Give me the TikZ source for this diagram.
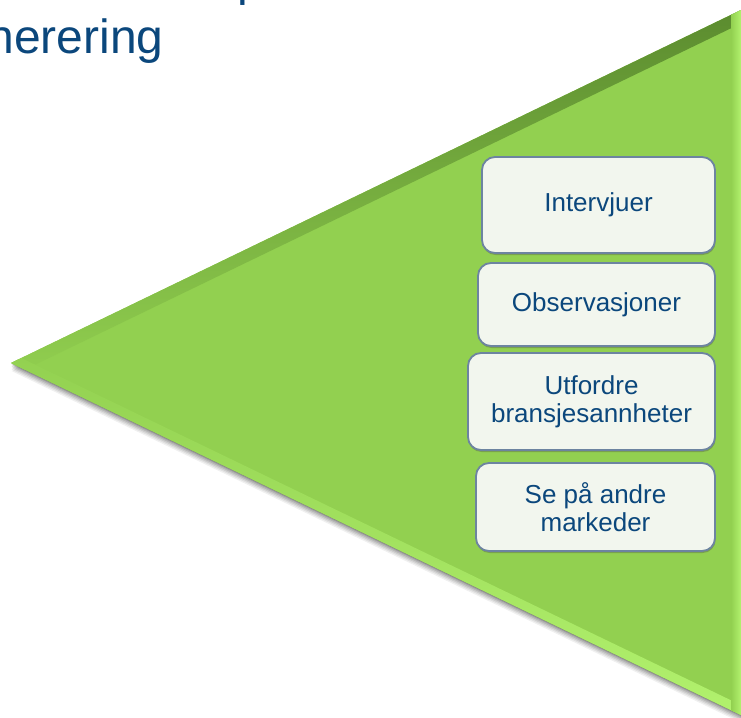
\documentclass[tikz,border=0pt]{standalone}
\usepackage{fontspec}
\setmainfont{Liberation Sans}
\usetikzlibrary{shadows}
\definecolor{trigreen}{HTML}{92D050}
\definecolor{bevdark}{HTML}{5A8A2E}
\definecolor{bevlight}{HTML}{B2F26E}
\definecolor{boxfill}{HTML}{F2F6EE}
\definecolor{boxedge}{HTML}{6D84A0}
\definecolor{txtblue}{HTML}{0B477C}
\tikzset{
  stepbox/.style={draw=boxedge, line width=1.8pt, fill=boxfill,
    rounded corners=13pt, text=txtblue, align=center, inner sep=0pt,
    font=\fontsize{26}{28}\selectfont,
    drop shadow={shadow xshift=0.6pt, shadow yshift=-2pt, opacity=.35, fill=black!70}},
  titletext/.style={text=txtblue, inner sep=0pt, anchor=base west,
    font=\fontsize{48}{57}\selectfont}
}
\begin{document}
\begin{tikzpicture}[x=1pt,y=1pt]
\useasboundingbox (0,0) rectangle (741,-717);

% heading, cut by the page edges
\node[titletext] (head) at (-12.7,-54) {nerering};
\node[titletext] (headp) at (237,4) {p};

% corners of the funnel triangle
\coordinate (A) at (11,-363);
\coordinate (B) at (741,-10);
\coordinate (C) at (741,-715);

% soft shadow under the triangle
\foreach \d/\o in {8/0.06,6.5/0.07,5/0.09,3.5/0.11,2/0.13,1/0.15}
  \fill[black,opacity=\o] ([shift={(0.5,-\d)}]A) -- ([shift={(0.5,-\d)}]B)
    -- ([shift={(0.5,-\d)}]C) -- cycle;

% triangle body with bevelled edges
\fill[trigreen] (A) -- (B) -- (C) -- cycle;
\begin{scope}
  \clip (A) -- (B) -- (C) -- cycle;
  \begin{scope}[shift={(A)}, rotate=25.8]
    \shade[top color=bevdark, bottom color=trigreen] (-20,-12) rectangle (830,0.5);
  \end{scope}
  \begin{scope}[shift={(A)}, rotate=-25.75]
    \shade[bottom color=bevlight, top color=trigreen] (-20,-0.5) rectangle (830,9);
  \end{scope}
  \shade[left color=trigreen, right color=bevlight] (731,0) rectangle (741,-717);
\end{scope}

% idea sources
\node[stepbox, minimum width=233pt, minimum height=96pt] (b1) at (598.5,-205) {Intervjuer};
\node[stepbox, minimum width=237pt, minimum height=83pt] (b2) at (596.5,-304.5) {Observasjoner};
\node[stepbox, minimum width=247pt, minimum height=97pt] (b3) at (591.5,-401.5) {Utfordre\\bransjesannheter};
\node[stepbox, minimum width=239pt, minimum height=88pt] (b4) at (595.5,-507) {Se på andre\\markeder};
\end{tikzpicture}
\end{document}
